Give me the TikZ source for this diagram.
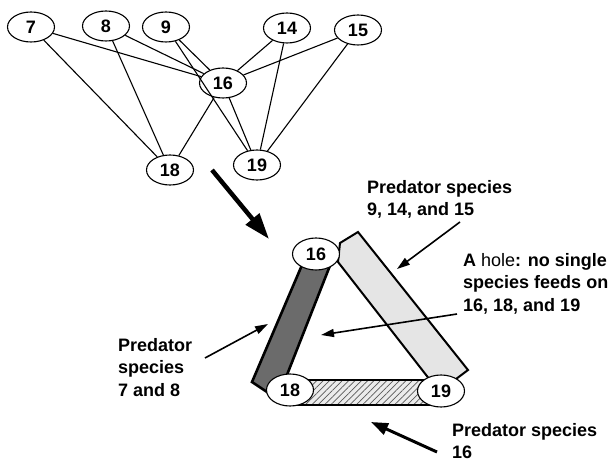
\documentclass[tikz,border=0pt]{standalone}
\usepackage{fontspec}
\setmainfont{Liberation Sans}
\usetikzlibrary{shapes.geometric,arrows.meta,patterns.meta}
\begin{document}
\begin{tikzpicture}[x=1pt,y=-1pt,
  sp/.style={ellipse,draw,line width=1.1pt,fill=white,minimum width=47pt,minimum height=30pt,inner sep=0pt,font=\fontsize{18}{18}\selectfont\bfseries},
  spt/.style={sp,minimum height=32pt},
  edge/.style={line width=1.1pt},
  lbl/.style={anchor=north west,inner sep=0pt,align=left,font=\fontsize{18}{22.5}\selectfont\bfseries},
  thinarrow/.style={line width=1.6pt,-{Triangle[length=13pt,width=8pt]}},
  bar/.style={line width=2pt,line join=miter}
]
\useasboundingbox (0,0) rectangle (616,462);
% top graph
\node[sp] (n7) at (31,27) {7};
\node[sp] (n8) at (106,26) {8};
\node[sp] (n9) at (166,27) {9};
\node[sp] (n14) at (287,28) {14};
\node[sp] (n15) at (358,30) {15};
\node[sp] (n16) at (223,83) {16};
\node[sp] (n18) at (170,170) {18};
\node[sp] (n19) at (257,165) {19};
\foreach \a/\b in {n7/n16,n7/n18,n8/n16,n8/n18,n9/n16,n9/n19,n14/n16,n14/n19,n15/n16,n15/n19,n16/n18,n16/n19}
  \draw[edge] (\a) -- (\b);
% big arrow
\coordinate (ba) at (212,170);
\coordinate (bb) at (269,239);
\draw[line width=4.5pt,-{Triangle[length=26pt,width=17pt]}] (ba) -- (bb);
% triangle bars
\draw[bar,fill=black!10] (338,262) -- (340,243) -- (358,232) -- (468,370) -- (452,382) -- (430,380) -- cycle;
\fill[black!8] (295,380) rectangle (432,405);
\fill[pattern={Lines[angle=45,distance=4.5pt,line width=0.7pt]},pattern color=black!65] (295,380) rectangle (432,405);
\draw[bar] (295,380) -- (432,380);
\draw[bar] (295,405) -- (432,405);
\draw[bar,line width=2.6pt,fill=black!58] (305,258) -- (333,258) -- (283,385) -- (270,394) -- (252,382) -- cycle;
\node[spt] (t16) at (316,254) {16};
\node[spt] (t18) at (290,390) {18};
\node[spt] (t19) at (441,391) {19};
% labels
\node[lbl] (l1) at (367,180) {Predator species\\9, 14, and 15};
\node[lbl] (l2) at (463,253) {A {\mdseries hole}: no single\\species feeds on\\16, 18, and 19};
\node[lbl] (l3) at (118,338) {Predator\\species\\7 and 8};
\node[lbl] (l4) at (452,423) {Predator species\\16};
% arrows
\coordinate (a1s) at (460,222);
\coordinate (a1e) at (397,269);
\draw[thinarrow] (a1s) -- (a1e);
\coordinate (a2s) at (457,314);
\coordinate (a2e) at (321,335);
\draw[thinarrow] (a2s) -- (a2e);
\coordinate (a3s) at (205,358);
\coordinate (a3e) at (268,324);
\draw[thinarrow] (a3s) -- (a3e);
\coordinate (a4s) at (437,452);
\coordinate (a4e) at (371,422);
\draw[line width=3pt,-{Triangle[length=17pt,width=12pt]}] (a4s) -- (a4e);
\end{tikzpicture}
\end{document}
